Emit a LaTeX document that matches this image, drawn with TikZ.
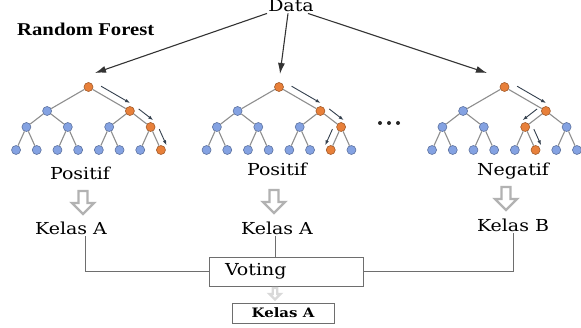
\documentclass[tikz,border=0pt]{standalone}
\usepackage{fontspec}
\usetikzlibrary{calc,arrows.meta}
\newfontfamily\lblfont[FakeStretch=1.15]{DejaVu Serif}
\newfontfamily\headfont[FakeStretch=1.15]{Liberation Serif}

\definecolor{colddot}{HTML}{84A2E2}
\definecolor{hotdot}{HTML}{E8803A}
\definecolor{twig}{HTML}{8E8E8E}
\definecolor{walkcol}{HTML}{34404E}
\definecolor{wire}{HTML}{6E6E6E}

\tikzset{
  dot/.style={circle, inner sep=0pt, minimum size=9pt, fill=#1, draw=#1!70!black, line width=0.6pt},
  branch/.style={draw=twig, line width=1.1pt},
  walk/.style={draw=walkcol, line width=0.9pt, -{Latex[length=5pt,width=3.5pt]}},
  feed/.style={draw=black!80, line width=1.1pt, -{Latex[length=11pt,width=7pt]}},
  lbl/.style={font=\lblfont\fontsize{16.5}{18}\selectfont, inner sep=1pt},
  link/.style={draw=wire, line width=0.9pt},
  box/.style={draw=wire, line width=0.9pt, rectangle},
  pics/hollow/.style={code={
    \draw[line width=2.4pt, draw=#1, fill=white, line join=miter]
      (-4.5,0) -- (4.5,0) -- (4.5,12) -- (11,12) -- (0,23) -- (-11,12) -- (-4.5,12) -- cycle;}},
  pics/hollow/.default=black!30
}

% one tree: name, root x, orange index on levels 1..3
\newcommand\rftree[5]{%
  \foreach \l/\n/\y/\h in {0/1/87/0,1/2/111/#3,2/4/127/#4,3/8/150/#5}{
    \pgfmathsetmacro\w{165.6/\n}
    \pgfmathtruncatemacro\m{\n-1}
    \foreach \i in {0,...,\m}{
      \pgfmathsetmacro\x{#2-82.8+\w*(\i+0.5)}
      \ifnum\i=\h\relax\def\tone{hotdot}\else\def\tone{colddot}\fi
      \node[dot=\tone] (#1-\l-\i) at (\x,\y) {};
      \ifnum\l>0
        \pgfmathtruncatemacro\p{\l-1}
        \pgfmathtruncatemacro\j{\i/2}
        \draw[branch] (#1-\p-\j) -- (#1-\l-\i);
      \fi
    }
  }
}
% small arrow along an edge
\newcommand\walk[3]{%
  \draw[walk] ($(#1)!0.22!(#2)!7pt!#3:(#2)$) -- ($(#1)!0.92!(#2)!7pt!#3:(#2)$);
}

\begin{document}
\begin{tikzpicture}[x=1pt,y=-1pt]
  \useasboundingbox (0,0) rectangle (581,328);

  % titles
  \node[lbl, anchor=base] (data) at (291,12) {Data};
  \node[anchor=base west, inner sep=0pt, font=\headfont\bfseries\fontsize{18}{20}\selectfont]
    (rf) at (17,36) {Random Forest};

  % trees
  \rftree{t1}{88.5}{1}{3}{7}
  \rftree{t2}{279}{1}{3}{6}
  \rftree{t3}{504.5}{1}{2}{5}

  \walk{t1-0-0}{t1-1-1}{90}
  \walk{t1-1-1}{t1-2-3}{90}
  \walk{t1-2-3}{t1-3-7}{90}
  \walk{t2-0-0}{t2-1-1}{90}
  \walk{t2-1-1}{t2-2-3}{90}
  \walk{t2-2-3}{t2-3-6}{-90}
  \walk{t3-0-0}{t3-1-1}{90}
  \walk{t3-1-1}{t3-2-2}{-90}
  \walk{t3-2-2}{t3-3-5}{90}

  \foreach \d in {380,389,398}
    \fill[black!85] (\d,123) circle (2pt);

  % data to trees
  \coordinate (in1) at (95,73);
  \coordinate (in2) at (280,74);
  \coordinate (in3) at (487,73);
  \draw[feed] ([xshift=-24pt]data.south) -- (in1);
  \draw[feed] ([xshift=-3pt]data.south) -- (in2);
  \draw[feed] ([xshift=17pt]data.south) -- (in3);

  % outcomes
  \node[lbl, anchor=base] (pos1) at (80,180) {Positif};
  \node[lbl, anchor=base] (pos2) at (277,176) {Positif};
  \node[lbl, anchor=base] (neg) at (513,176) {Negatif};

  \pic at (83,191) {hollow};
  \pic at (274,190) {hollow};
  \pic at (506,187) {hollow};

  \node[lbl, anchor=base] (ka1) at (71,235) {Kelas A};
  \node[lbl, anchor=base] (ka2) at (277,235) {Kelas A};
  \node[lbl, anchor=base] (kb) at (513,232) {Kelas B};

  % voting
  \node[box, lbl, text width=122pt, inner xsep=16pt, minimum height=29pt, align=left]
    (vote) at (286,271.5) {Voting};
  \draw[link] ([xshift=14pt]ka1.south) |- (vote.west);
  \draw[link] ([xshift=-2pt]ka2.south) -- ([xshift=-2pt]ka2.south |- vote.north);
  \draw[link] (kb.south) |- (vote.east);

  \pic[scale=0.5] at (275,288) {hollow=black!15};
  \node[box, minimum width=102pt, minimum height=20pt, inner sep=0pt,
        font=\lblfont\bfseries\fontsize{13}{15}\selectfont] (res) at (283,313) {Kelas A};
\end{tikzpicture}
\end{document}
